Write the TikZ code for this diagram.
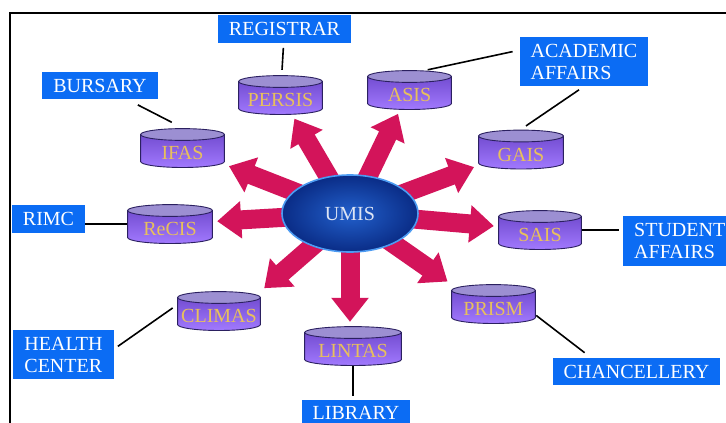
\documentclass[tikz,border=0pt]{standalone}
\usepackage{fontspec}
\setmainfont{Liberation Serif}
\usetikzlibrary{arrows.meta,shapes.geometric}
\definecolor{boxblue}{HTML}{0B6CF4}
\definecolor{dbtop}{HTML}{6A44C8}
\definecolor{dbbot}{HTML}{A27AFF}
\definecolor{dbcap}{HTML}{9C8FD2}
\definecolor{dbline}{HTML}{2B2060}
\definecolor{dbtext}{HTML}{E8C05C}
\definecolor{spokered}{HTML}{D3145A}
\definecolor{hubin}{HTML}{2260CC}
\definecolor{hubout}{HTML}{0A2C86}
\definecolor{hubrim}{HTML}{4C9BF2}
\definecolor{hubtext}{HTML}{DCE4F4}
\tikzset{
  office/.style={fill=boxblue,text=white,font=\fontsize{20}{22}\selectfont,inner xsep=11pt,inner ysep=7pt,align=left},
  dbase/.style={/utils/exec={\def\dbw{#1}},minimum width=#1,minimum height=40pt,inner sep=0pt,
    text height=23pt,text depth=0pt,text=dbtext,font=\fontsize{20}{22}\selectfont,
    path picture={
      \path[top color=dbtop,bottom color=dbbot,draw=dbline,line width=0.9pt]
        ([shift={(0.6pt,-6.5pt)}]path picture bounding box.north west)
        -- ([shift={(0.6pt,6.5pt)}]path picture bounding box.south west)
        arc[start angle=180,end angle=360,x radius=\dbw/2-0.6pt,y radius=6pt]
        -- ([shift={(-0.6pt,-6.5pt)}]path picture bounding box.north east) -- cycle;
      \path[fill=dbcap,draw=dbline,line width=0.9pt]
        ([yshift=-6.5pt]path picture bounding box.north) ellipse[x radius=\dbw/2-0.6pt,y radius=5.9pt];}},
  dbase/.default=85pt,
  hub/.style={ellipse,minimum width=136pt,minimum height=77pt,inner color=hubin,outer color=hubout,
    draw=hubrim,line width=1.6pt,text=hubtext,font=\fontsize{20}{22}\selectfont},
  spoke/.style={spokered,line width=19pt,-{Triangle[length=24pt,width=36pt]},shorten >=4pt},
  link/.style={black,line width=1.6pt,shorten <=5pt,shorten >=5pt}
}
\begin{document}
\begin{tikzpicture}[x=1pt,y=-1pt]
  \path[use as bounding box,fill=white] (0,0) rectangle (726,423);
  \draw[line width=1.4pt] (10,440) |- (740,13);
  % subsystems
  \node[dbase] (persis) at (280.5,95) {PERSIS};
  \node[dbase] (ifas) at (182.5,148) {IFAS};
  \node[dbase] (asis) at (409.5,90) {ASIS};
  \node[dbase=86pt] (gais) at (521,149.5) {GAIS};
  \node[dbase=86pt] (recis) at (170,224) {ReCIS};
  \node[dbase=84pt] (sais) at (540,230) {SAIS};
  \node[dbase=84pt] (climas) at (219,311) {CLIMAS};
  \node[dbase] (prism) at (493.5,304) {PRISM};
  \node[dbase=98pt] (lintas) at (353,346) {LINTAS};
  % spokes from the hub
  \coordinate (hubc) at (350,213.5);
  \foreach \db in {persis,ifas,asis,gais,recis,sais}{\draw[spoke] (hubc) -- (\db);}
  \draw[spoke] (hubc) -- (lintas.north -| hubc);
  \draw[spoke] (hubc) -- (climas.north east);
  \draw[spoke] (hubc) -- (prism.north west);
  \node[hub] (umis) at (hubc) {UMIS};
  % offices
  \node[office] (registrar) at (284.5,29) {REGISTRAR};
  \node[office] (bursary) at (100,85.5) {BURSARY};
  \node[office] (academic) at (584,61.5) {ACADEMIC\\AFFAIRS};
  \node[office] (rimc) at (48.5,219) {RIMC};
  \node[office,anchor=west] (student) at (623,241) {STUDENT\\AFFAIRS};
  \node[office] (health) at (63.5,354.5) {HEALTH\\CENTER};
  \node[office] (chancellery) at (636.5,371.5) {CHANCELLERY};
  \node[office,anchor=north,inner ysep=6pt] (library) at (356,400) {LIBRARY};
  % links
  \draw[link] (registrar) -- (persis);
  \draw[link,shorten <=12pt,shorten >=12pt] (bursary) -- (ifas.north);
  \draw[link,shorten <=7pt,shorten >=0pt] (academic.170) -- (asis.48);
  \draw[link,shorten <=6pt,shorten >=6pt] (academic.south) -- (gais.north);
  \draw[link,shorten <=0pt,shorten >=0pt] (rimc.east |- recis.west) -- (recis.west);
  \draw[link,shorten <=0pt,shorten >=4pt] (sais.east) -- (sais.east -| student.west);
  \draw[link] (health.6) -- (climas.172);
  \draw[link,shorten <=0pt,shorten >=8pt] (prism.-15) -- (chancellery.163);
  \draw[link,shorten <=0pt,shorten >=4pt] (lintas.south) -- (lintas.south |- library.north);
\end{tikzpicture}
\end{document}
